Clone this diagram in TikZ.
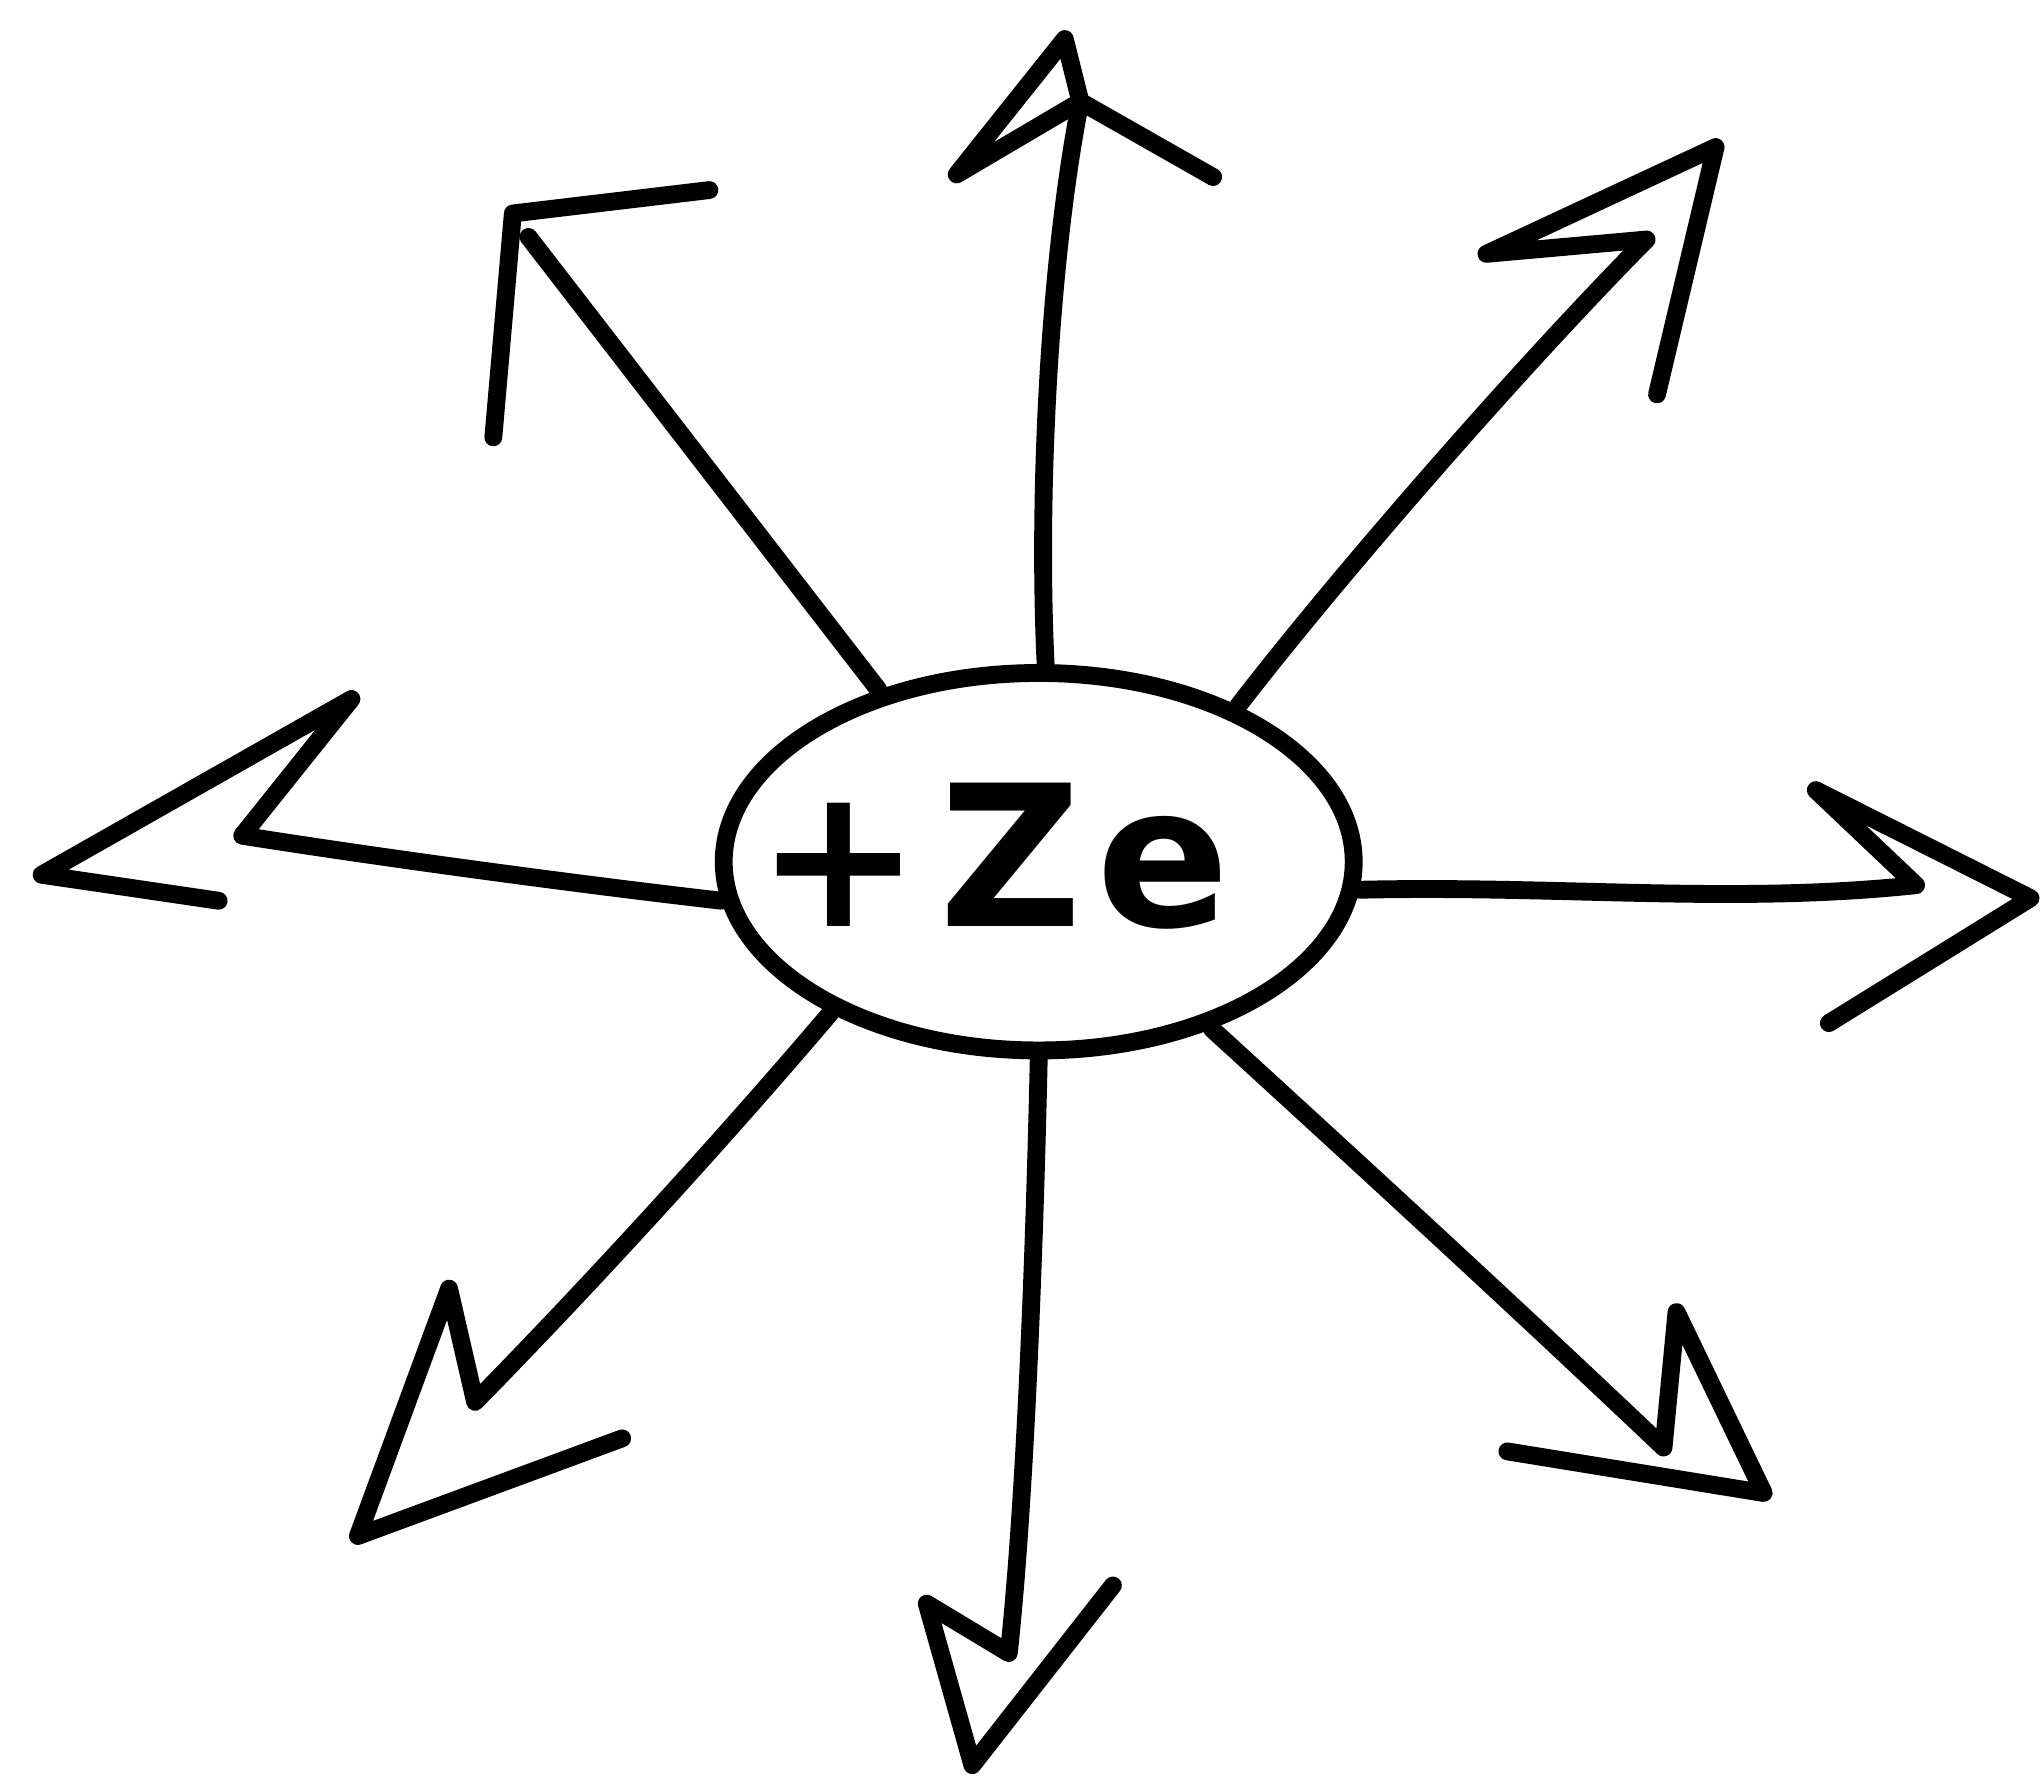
\documentclass[tikz,border=0pt]{standalone}
\usepackage{fontspec}
\newfontfamily\handfont{DejaVu Sans}
\usetikzlibrary{shapes.geometric}
\tikzset{
  stroke/.style={line width=3.9pt, line cap=round, line join=round, draw=black},
  nucleus/.style={ellipse, draw=black, line width=3.9pt, minimum width=48.4mm, minimum height=29mm, inner sep=0pt},
  charge/.style={font=\handfont\bfseries\fontsize{43}{50}\selectfont, anchor=base, inner sep=0pt}
}
\begin{document}
\begin{tikzpicture}[x=0.1mm, y=-0.1mm]
\useasboundingbox (0,0) rectangle (1568,1366);
\node[nucleus] (nuc) at (798,662) {};
\node[charge] (lbl) at (763,712) {+\kern4pt Z\kern3pt e};

% named points of the arrow heads
\coordinate (uj) at (830,78);  \coordinate (ub1) at (735,134); \coordinate (ut) at (818,30); \coordinate (ub2) at (932,136);
\coordinate (ulj) at (406,182); \coordinate (ulb1) at (379,336); \coordinate (ult) at (394,164); \coordinate (ulb2) at (545,146);
\coordinate (urj) at (1265,184); \coordinate (urb1) at (1142,195); \coordinate (urt) at (1318,113); \coordinate (urb2) at (1273,303);
\coordinate (lj) at (186,642); \coordinate (lb1) at (270,537); \coordinate (lt) at (32,672); \coordinate (lb2) at (168,692);
\coordinate (rj) at (1472,680); \coordinate (rb1) at (1395,607); \coordinate (rt) at (1560,690); \coordinate (rb2) at (1405,786);
\coordinate (llj) at (365,1077); \coordinate (llb1) at (345,990); \coordinate (llt) at (275,1180); \coordinate (llb2) at (478,1105);
\coordinate (dj) at (775,1270); \coordinate (db1) at (712,1232); \coordinate (dt) at (747,1356); \coordinate (db2) at (855,1218);
\coordinate (lrj) at (1278,1112); \coordinate (lrb1) at (1288,1008); \coordinate (lrt) at (1355,1147); \coordinate (lrb2) at (1158,1115);

% up
\draw[stroke] (nuc.88) .. controls (797,380) and (806,200) .. (uj) -- (ub1) -- (ut) -- (uj) -- (ub2);
% upper left
\draw[stroke] (nuc.133) -- (ulj);
\draw[stroke] (ulb1) -- (ult) -- (ulb2);
% upper right
\draw[stroke] (nuc.38) .. controls (1030,440) and (1170,280) .. (urj) -- (urb1) -- (urt) -- (urb2);
% left
\draw[stroke] (nuc.187) .. controls (450,680) and (300,660) .. (lj) -- (lb1) -- (lt) -- (lb2);
% right
\draw[stroke] (nuc.355) .. controls (1200,680) and (1330,695) .. (rj) -- (rb1) -- (rt) -- (rb2);
% lower left
\draw[stroke] (nuc.216) .. controls (560,870) and (460,980) .. (llj) -- (llb1) -- (llt) -- (llb2);
% down
\draw[stroke] (nuc.270) .. controls (795,950) and (788,1150) .. (dj) -- (db1) -- (dt) -- (db2);
% lower right
\draw[stroke] (nuc.316) .. controls (1040,890) and (1160,1000) .. (lrj) -- (lrb1) -- (lrt) -- (lrb2);
\end{tikzpicture}
\end{document}
